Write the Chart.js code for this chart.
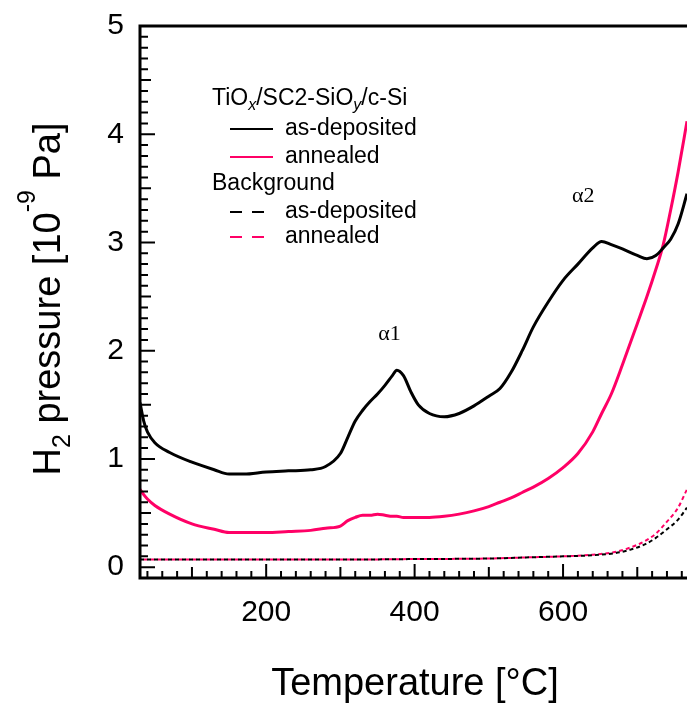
<!DOCTYPE html>
<html>
<head>
<meta charset="utf-8">
<title>H2 TDS</title>
<script src="https://cdn.jsdelivr.net/npm/chart.js@4.4.1/dist/chart.umd.min.js"></script>
<style>
    html, body { margin: 0; padding: 0; background: #fff; }
    canvas { display: block; }
</style>
</head>
<body>
<canvas id="tds-chart" width="687" height="709"></canvas>
<script>
// Temperatures (°C) where the sample curves were read
var sampleTemps = [30, 35, 40, 50, 70, 100, 130, 150, 170, 200, 230, 260, 280, 300, 310, 320, 330, 340, 350, 360,
    370, 376, 385, 395, 405, 420, 440, 460, 480, 500, 515, 530, 545, 560, 580, 600, 620, 640, 652, 665,
    680, 700, 713, 725, 735, 745, 755, 767];

// TiOx/SC2-SiOy/c-Si, as-deposited (10^-9 Pa)
var asDepositedValues = [1.52, 1.35, 1.25, 1.15, 1.06, 0.97, 0.90, 0.86, 0.86, 0.88, 0.89, 0.90, 0.93, 1.05, 1.20, 1.35, 1.45, 1.53, 1.60, 1.68,
    1.77, 1.82, 1.77, 1.62, 1.50, 1.42, 1.39, 1.42, 1.49, 1.58, 1.65, 1.80, 2.00, 2.22, 2.45, 2.65, 2.80, 2.95, 3.01, 2.98,
    2.94, 2.88, 2.85, 2.88, 2.95, 3.03, 3.17, 3.45];

// TiOx/SC2-SiOy/c-Si, annealed
var annealedValues = [0.72, 0.67, 0.63, 0.57, 0.49, 0.40, 0.35, 0.32, 0.32, 0.32, 0.33, 0.34, 0.36, 0.38, 0.43, 0.46, 0.48, 0.48, 0.49, 0.48,
    0.47, 0.47, 0.46, 0.46, 0.46, 0.46, 0.47, 0.49, 0.52, 0.56, 0.60, 0.64, 0.69, 0.74, 0.82, 0.92, 1.05, 1.25, 1.42, 1.60,
    1.87, 2.25, 2.50, 2.75, 2.98, 3.30, 3.65, 4.12];

// Background runs
var bgTemps = [30, 100, 200, 300, 400, 500, 550, 600, 640, 670, 690, 710, 725, 740, 755, 767];
var bgAsDepositedValues = [0.07, 0.07, 0.07, 0.07, 0.075, 0.08, 0.09, 0.10, 0.11, 0.13, 0.16, 0.21, 0.27, 0.35, 0.44, 0.55];
var bgAnnealedValues = [0.07, 0.07, 0.07, 0.07, 0.075, 0.08, 0.09, 0.10, 0.115, 0.14, 0.18, 0.24, 0.31, 0.42, 0.55, 0.72];

// Tick labels
var xTickLabels = [200, 400, 600];
var yTickLabels = [0, 1, 2, 3, 4, 5];

// Peak annotations
var peakLabels = ['\u03b11', '\u03b12'];
var peakTemps = [351, 612];
var peakValues = [2.10, 3.37];

var pink = '#ff0066';
var sans = '"Liberation Sans", Arial, sans-serif';

function toPoints(xs, ys) {
    var points = [];
    for (var i = 0; i < xs.length; i++) {
        points.push({ x: xs[i], y: ys[i] });
    }
    return points;
}

// draw a string made of parts with own fonts and baseline shifts
function drawRichText(ctx, parts, x, y, align) {
    var total = 0;
    parts.forEach(function (p) {
        ctx.font = p.font;
        total += ctx.measureText(p.text).width;
    });
    var cx = align === 'center' ? x - total / 2 : x;
    ctx.textAlign = 'left';
    ctx.textBaseline = 'alphabetic';
    parts.forEach(function (p) {
        ctx.font = p.font;
        ctx.fillText(p.text, cx, y + (p.dy || 0));
        cx += ctx.measureText(p.text).width;
    });
}

// Frame, inward ticks, axis titles, legend and peak labels
var decorPlugin = {
    id: 'decor',
    afterDraw: function (chart) {
        var ctx = chart.ctx;
        var area = chart.chartArea;
        var xs = chart.scales.x;
        var ys = chart.scales.y;

        ctx.save();
        ctx.strokeStyle = '#000';
        ctx.fillStyle = '#000';

        // minor / major ticks
        ctx.lineWidth = 2;
        ctx.beginPath();
        for (var i = 0; i <= 50; i++) {
            var py = ys.getPixelForValue(i / 10);
            var len = i % 10 === 0 ? 15 : (i % 5 === 0 ? 11 : 8);
            ctx.moveTo(area.left, py);
            ctx.lineTo(area.left + len, py);
        }
        for (var t = 40; t <= 760; t += 20) {
            var px = xs.getPixelForValue(t);
            var tl = t % 200 === 0 ? 14 : (t % 100 === 0 ? 11 : 7);
            ctx.moveTo(px, area.bottom);
            ctx.lineTo(px, area.bottom - tl);
        }
        ctx.stroke();

        // frame (right side is cut off in the figure)
        ctx.lineWidth = 3;
        ctx.beginPath();
        ctx.moveTo(area.right, area.top);
        ctx.lineTo(area.left, area.top);
        ctx.lineTo(area.left, area.bottom);
        ctx.lineTo(area.right, area.bottom);
        ctx.stroke();

        // x axis title
        ctx.font = '38px ' + sans;
        ctx.textAlign = 'center';
        ctx.textBaseline = 'alphabetic';
        ctx.fillText('Temperature [\u00b0C]', 415, 695);

        // y axis title, rotated
        ctx.save();
        ctx.translate(60, 299);
        ctx.rotate(-Math.PI / 2);
        drawRichText(ctx, [
            { text: 'H', font: '38px ' + sans },
            { text: '2', font: '25px ' + sans, dy: 10 },
            { text: ' pressure [10', font: '38px ' + sans },
            { text: '-9', font: '25px ' + sans, dy: -25 },
            { text: ' Pa]', font: '38px ' + sans }
        ], 0, 0, 'center');
        ctx.restore();

        // legend
        var lx = 212;
        drawRichText(ctx, [
            { text: 'TiO', font: '23px ' + sans },
            { text: 'x', font: 'italic 16px ' + sans, dy: 5 },
            { text: '/SC2-SiO', font: '23px ' + sans },
            { text: 'y', font: 'italic 16px ' + sans, dy: 5 },
            { text: '/c-Si', font: '23px ' + sans }
        ], lx, 105, 'left');
        ctx.font = '23px ' + sans;
        ctx.textAlign = 'left';
        ctx.fillText('Background', lx, 190);

        var rows = [
            { y: 129, text: 'as-deposited', color: '#000', dash: [] },
            { y: 157, text: 'annealed', color: pink, dash: [] },
            { y: 212, text: 'as-deposited', color: '#000', dash: [12, 10] },
            { y: 237, text: 'annealed', color: pink, dash: [12, 10] }
        ];
        rows.forEach(function (r) {
            ctx.strokeStyle = r.color;
            ctx.lineWidth = 2;
            ctx.setLineDash(r.dash);
            ctx.beginPath();
            ctx.moveTo(230, r.y);
            ctx.lineTo(273, r.y);
            ctx.stroke();
            ctx.setLineDash([]);
            ctx.fillStyle = '#000';
            ctx.fillText(r.text, 285, r.y + 6);
        });

        // peak labels
        ctx.font = '22px "Liberation Serif", "Times New Roman", serif';
        ctx.fillStyle = '#000';
        for (var k = 0; k < peakLabels.length; k++) {
            ctx.fillText(peakLabels[k], xs.getPixelForValue(peakTemps[k]), ys.getPixelForValue(peakValues[k]));
        }
        ctx.restore();
    }
};

var ctx = document.getElementById('tds-chart').getContext('2d');
var tdsChart = new Chart(ctx, {
    type: 'line',
    data: {
        datasets: [{
            label: 'as-deposited',
            data: toPoints(sampleTemps, asDepositedValues),
            borderColor: '#000',
            borderWidth: 3,
            pointRadius: 0,
            cubicInterpolationMode: 'monotone'
        }, {
            label: 'annealed',
            data: toPoints(sampleTemps, annealedValues),
            borderColor: pink,
            borderWidth: 3,
            pointRadius: 0,
            cubicInterpolationMode: 'monotone'
        }, {
            label: 'Background as-deposited',
            data: toPoints(bgTemps, bgAsDepositedValues),
            borderColor: '#000',
            borderWidth: 2,
            borderDash: [4, 3],
            pointRadius: 0,
            cubicInterpolationMode: 'monotone'
        }, {
            label: 'Background annealed',
            data: toPoints(bgTemps, bgAnnealedValues),
            borderColor: pink,
            borderWidth: 2,
            borderDash: [4, 3],
            borderDashOffset: 3.5,
            pointRadius: 0,
            cubicInterpolationMode: 'monotone'
        }]
    },
    options: {
        responsive: false,
        animation: false,
        layout: { padding: { top: 23, right: 0, left: 0, bottom: 0 } },
        plugins: {
            legend: { display: false },
            tooltip: { enabled: false }
        },
        scales: {
            x: {
                type: 'linear',
                min: 30,
                max: 767,
                afterFit: function (scale) { scale.height = 131; },
                grid: { display: false },
                border: { display: false },
                ticks: {
                    stepSize: 100,
                    includeBounds: false,
                    autoSkip: false,
                    maxRotation: 0,
                    padding: 9,
                    color: '#000',
                    font: { family: sans, size: 30 },
                    callback: function (value) {
                        return xTickLabels.indexOf(value) >= 0 ? String(value) : '';
                    }
                }
            },
            y: {
                type: 'linear',
                min: -0.1,
                max: 5,
                afterFit: function (scale) { scale.width = 140; },
                grid: { display: false },
                border: { display: false },
                ticks: {
                    stepSize: 1,
                    includeBounds: false,
                    padding: 8,
                    color: '#000',
                    font: { family: sans, size: 30 },
                    callback: function (value) {
                        return yTickLabels.indexOf(value) >= 0 ? String(value) : '';
                    }
                }
            }
        }
    },
    plugins: [decorPlugin]
});
</script>
</body>
</html>
